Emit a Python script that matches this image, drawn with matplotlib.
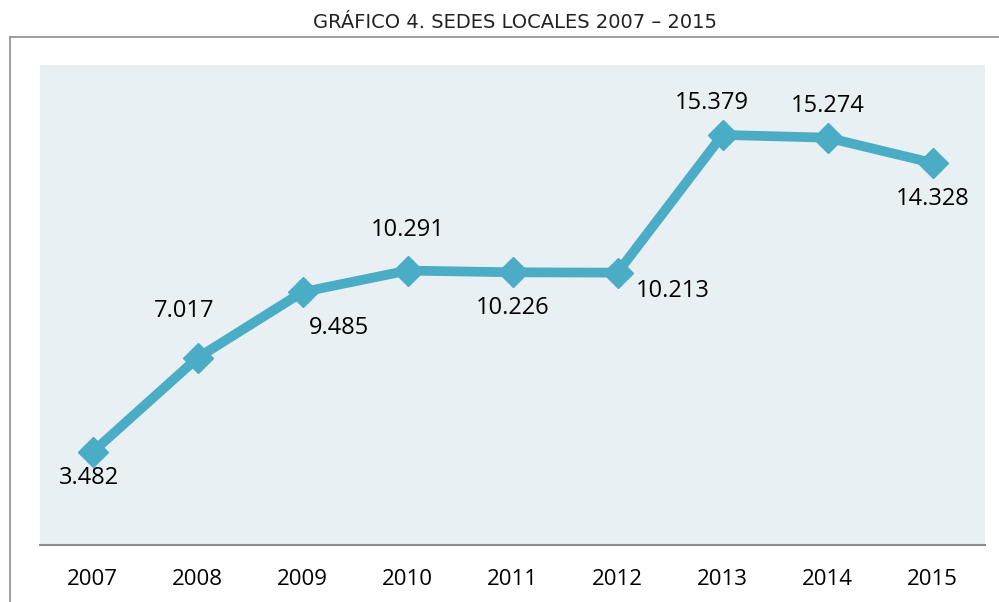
import matplotlib.pyplot as plt
from matplotlib.lines import Line2D

years = ['2007', '2008', '2009', '2010', '2011', '2012', '2013', '2014', '2015']
sedes = [3482, 7017, 9485, 10291, 10226, 10213, 15379, 15274, 14328]
# label offsets in pixels (dx, dy) from each point
offsets = [(-4, -26), (-13, 47), (37, -36), (0, 41), (0, -36), (55, -18), (-11, 32), (0, 32), (0, -36)]

def fmt(v):
    return f'{v:,}'.replace(',', '.')

fig = plt.figure(figsize=(9.99, 6.02), dpi=100)
ax = fig.add_axes([40/999, 57/602, 945/999, 480/602])
ax.set_facecolor('#E8F0F4')

x = range(len(years))
ax.plot(x, sedes, color='#4BACC6', lw=7, marker='D', ms=15, solid_joinstyle='miter')

for i, v in enumerate(sedes):
    dx, dy = offsets[i]
    ax.annotate(fmt(v), (i, v), xytext=(dx, dy), textcoords='offset pixels',
                ha='center', va='center', fontsize=17, family='Open Sans', color='black')

ax.set_xlim(-0.5, len(years) - 0.5)
ax.set_ylim(0, 18000)
ax.set_xticks(list(x))
ax.set_xticklabels(years, fontsize=16, family='Open Sans')
ax.set_yticks([])
ax.tick_params(axis='x', length=0, pad=17)
for s in ['top', 'left', 'right']:
    ax.spines[s].set_visible(False)
ax.spines['bottom'].set_color('#8C8C8C')
ax.spines['bottom'].set_linewidth(1.5)

# outer frame
fig.add_artist(Line2D([10/999, 10/999], [0, 1 - 37/602], transform=fig.transFigure, color='#8C8C8C', lw=1.2))
fig.add_artist(Line2D([10/999, 1], [1 - 37/602, 1 - 37/602], transform=fig.transFigure, color='#8C8C8C', lw=1.2))

fig.text(515/999, 1 - 22/602, 'GRÁFICO 4. SEDES LOCALES 2007 – 2015', ha='center', va='center',
         fontsize=14, family='DejaVu Sans', color='#222222')

fig.savefig('out.png', dpi=100)
